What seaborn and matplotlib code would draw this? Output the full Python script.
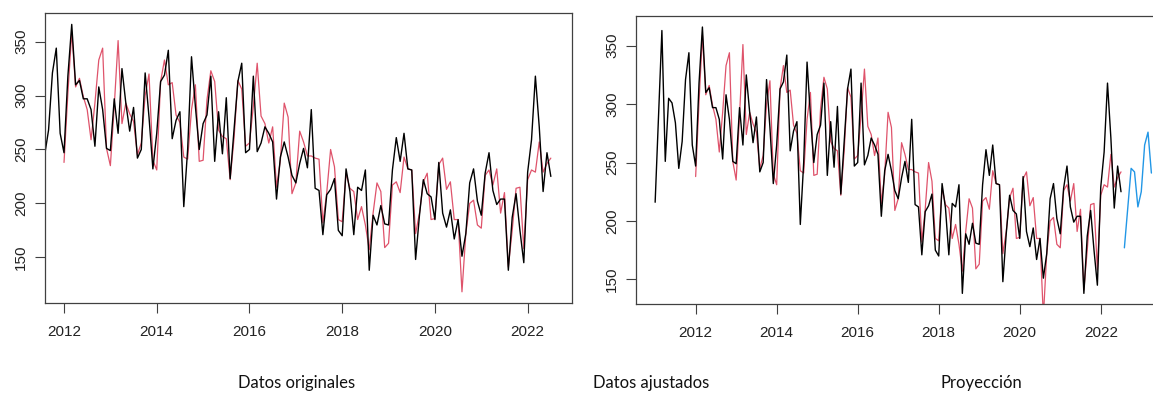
import numpy as np
import pandas as pd
import matplotlib
matplotlib.use("Agg")
import matplotlib.pyplot as plt
import seaborn as sns

# ---------------- data (monthly) ----------------
orig_start = 2011.0          # Jan 2011
original = [
    216, 290, 363, 251, 305, 301, 284, 245, 268, 321, 344, 265,   # 2011
    247, 318, 366, 310, 314, 297, 297, 287, 253, 308, 287, 251,   # 2012
    249, 297, 265, 325, 293, 267, 289, 242, 250, 321, 280, 232,   # 2013
    265, 313, 319, 342, 260, 277, 285, 197, 250, 336, 290, 250,   # 2014
    274, 282, 318, 239, 285, 246, 298, 223, 268, 313, 330, 247,   # 2015
    250, 318, 248, 256, 271, 265, 257, 204, 243, 257, 243, 226,   # 2016
    219, 237, 251, 233, 287, 214, 212, 171, 208, 213, 223, 175,   # 2017
    170, 232, 211, 171, 215, 212, 231, 138, 189, 180, 198, 181,   # 2018
    180, 231, 261, 239, 265, 232, 231, 148, 189, 222, 209, 206,   # 2019
    185, 238, 191, 178, 194, 167, 185, 151, 172, 219, 232, 202,   # 2020
    189, 228, 247, 212, 199, 204, 204, 138, 187, 209, 175, 145,   # 2021
    229, 259, 318, 271, 211, 247, 225,                            # 2022
]

fit_start = 2012.0           # Jan 2012
fitted = [
    238, 302, 359, 308, 316, 299, 287, 259, 293, 333, 344, 251,   # 2012
    235, 290, 351, 274, 293, 283, 276, 245, 256, 300, 320, 240,   # 2013
    231, 313, 333, 310, 312, 282, 275, 243, 241, 287, 310, 239,   # 2014
    240, 296, 323, 313, 268, 262, 260, 222, 260, 314, 306, 253,   # 2015
    256, 290, 330, 281, 274, 256, 271, 215, 240, 293, 280, 209,   # 2016
    219, 267, 257, 244, 244, 242, 241, 182, 210, 250, 234, 185,   # 2017
    183, 228, 214, 211, 185, 197, 180, 157, 191, 219, 211, 159,   # 2018
    163, 217, 220, 210, 243, 232, 231, 172, 191, 220, 228, 185,   # 2019
    186, 236, 242, 213, 220, 185, 185, 118, 172, 200, 203, 180,   # 2020
    177, 226, 231, 217, 232, 191, 210, 141, 175, 214, 215, 158,   # 2021
    222, 231, 229, 257, 229, 237, 242,                            # 2022
]

fc_start = 2022 + 7 / 12     # Aug 2022
forecast = [177, 211, 245, 242, 212, 225, 265, 276, 241]

year_ticks = [2012, 2014, 2016, 2018, 2020, 2022]
y_ticks = [150, 200, 250, 300, 350]
legend_labels = ["Datos originales", "Datos ajustados", "Proyección"]

BLACK = "#000000"
RED = "#DF536B"
BLUE = "#2297E6"


def frame(values, start):
    return pd.DataFrame({"t": start + np.arange(len(values)) / 12.0,
                         "v": values})


df_orig = frame(original, orig_start)
df_fit = frame(fitted, fit_start)
df_fc = frame(forecast, fc_start)

# ---------------- style ----------------
sns.set_style("white")
plt.rcParams["font.family"] = ["Liberation Sans", "DejaVu Sans"]

W, H = 1153, 394
fig = plt.figure(figsize=(W / 100, H / 100), dpi=100)


def px_axes(x0, y0, x1, y1):
    return fig.add_axes([x0 / W, 1 - y1 / H, (x1 - x0) / W, (y1 - y0) / H])


ax1 = px_axes(45, 13.3, 571.7, 302.7)
ax2 = px_axes(635.7, 15.7, 1200, 304)

# left panel: original + fitted
sns.lineplot(data=df_fit, x="t", y="v", ax=ax1, color=RED, lw=0.9)
sns.lineplot(data=df_orig, x="t", y="v", ax=ax1, color=BLACK, lw=1.0)
ax1.set_xlim(2011.59, 2022.95)
ax1.set_ylim(107.9, 376.3)

# right panel: original + fitted + forecast
sns.lineplot(data=df_fit, x="t", y="v", ax=ax2, color=RED, lw=0.9)
sns.lineplot(data=df_orig, x="t", y="v", ax=ax2, color=BLACK, lw=1.0)
sns.lineplot(data=df_fc, x="t", y="v", ax=ax2, color=BLUE, lw=1.0)
ax2.set_xlim(2010.52, 2024.45)
ax2.set_ylim(128.9, 375.7)

for ax in (ax1, ax2):
    ax.set_xlabel("")
    ax.set_ylabel("")
    ax.set_xticks(year_ticks)
    ax.set_xticklabels([str(y) for y in year_ticks])
    ax.set_yticks(y_ticks)
    ax.set_yticklabels([str(y) for y in y_ticks], rotation=90, va="center")
    ax.tick_params(axis="both", which="major", direction="out", length=7,
                   width=0.8, color="#404040", labelsize=11,
                   labelcolor="#222222", bottom=True, left=True,
                   top=False, right=False)
    ax.tick_params(axis="x", pad=9)
    ax.tick_params(axis="y", pad=5)
    for s in ax.spines.values():
        s.set_visible(True)
        s.set_color("#404040")
        s.set_linewidth(0.9)
    ax.grid(False)

# bottom captions
for label, xc in zip(legend_labels, [297, 651, 981]):
    fig.text(xc / W, 1 - 383 / H, label, ha="center", va="center",
             fontsize=12, family=["Lato", "DejaVu Sans"], color="#111111")

fig.savefig("out.png", dpi=100)
